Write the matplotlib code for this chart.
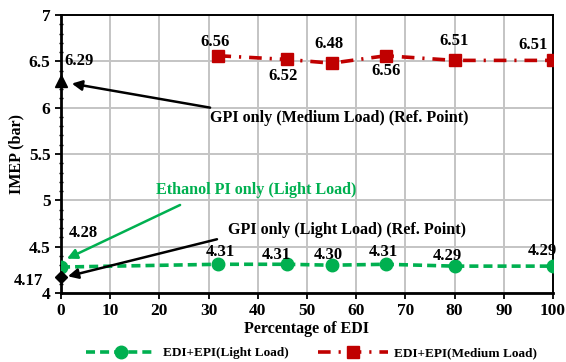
import matplotlib
matplotlib.use("Agg")
import matplotlib.pyplot as plt
from matplotlib.ticker import MultipleLocator

# ---- data ----
edi_light = [0, 32, 46, 55, 66, 80, 100]
imep_light = [4.28, 4.31, 4.31, 4.30, 4.31, 4.29, 4.29]
edi_medium = [32, 46, 55, 66, 80, 100]
imep_medium = [6.56, 6.52, 6.48, 6.56, 6.51, 6.51]
gpi_medium_ref = 6.29
gpi_light_ref = 4.17

light_label_off = [(22, 34), (2, 12), (-11, 9), (-3, 10), (-2, 12), (-7, 10), (-11, 15)]
medium_label_off = [(-3, 14), (-4, -17), (-3, 19), (0, -15), (-1, 19), (-20, 15)]

GREEN = "#00b050"
RED = "#c00000"
plt.rcParams['font.family'] = ['Liberation Serif', 'DejaVu Serif']
plt.rcParams['font.weight'] = 'bold'

fig = plt.figure(figsize=(5.66, 3.62), dpi=100)
ax = fig.add_axes([0.1078, 0.1906, 0.8692, 0.768])

ax.plot(edi_light, imep_light, color=GREEN, lw=2.6, ls=(0, (2.5, 1.4)), marker='o', ms=9,
        label='EDI+EPI(Light Load)', zorder=3)
ax.plot(edi_medium, imep_medium, color=RED, lw=2.6, ls=(0, (3.5, 2.2, 0.6, 2.2)), marker='s', ms=9,
        label='EDI+EPI(Medium Load)', zorder=3)
ax.plot([0], [gpi_medium_ref], marker='^', color='black', ms=8, clip_on=False, zorder=4)
ax.plot([0], [gpi_light_ref], marker='D', color='black', ms=6.5, clip_on=False, zorder=4)

fs = 12
for x, y, off in zip(edi_light, imep_light, light_label_off):
    ax.annotate(f"{y:.2f}", (x, y), xytext=off, textcoords='offset pixels',
                ha='center', va='center', fontsize=fs, fontweight='bold', annotation_clip=False)
for x, y, off in zip(edi_medium, imep_medium, medium_label_off):
    ax.annotate(f"{y:.2f}", (x, y), xytext=off, textcoords='offset pixels',
                ha='center', va='center', fontsize=fs, fontweight='bold', annotation_clip=False)
ax.annotate(f"{gpi_medium_ref:.2f}", (0, gpi_medium_ref), xytext=(18, 20), textcoords='offset pixels',
            ha='center', va='center', fontsize=fs, fontweight='bold')
ax.annotate(f"{gpi_light_ref:.2f}", (0, gpi_light_ref), xytext=(-33, -4), textcoords='offset pixels',
            ha='center', va='center', fontsize=fs, fontweight='bold', annotation_clip=False)

fa = 11.6
arrow_k = dict(arrowstyle='-|>', color='black', lw=1.8, mutation_scale=15, shrinkA=0, shrinkB=0)
arrow_g = dict(arrowstyle='-|>', color=GREEN, lw=1.8, mutation_scale=15, shrinkA=0, shrinkB=0)
ax.annotate("", xy=(2.2, 6.26), xytext=(30.3, 6.0), arrowprops=arrow_k)
ax.text(30.3, 5.89, "GPI only (Medium Load) (Ref. Point)", fontsize=fa, fontweight='bold',
        ha='left', va='center')
ax.annotate("", xy=(1.2, 4.37), xytext=(24.2, 4.95), arrowprops=arrow_g)
ax.text(19.3, 5.11, "Ethanol PI only (Light Load)", fontsize=fa, fontweight='bold',
        ha='left', va='center', color=GREEN)
ax.annotate("", xy=(1.4, 4.18), xytext=(31.7, 4.58), arrowprops=arrow_k)
ax.text(34, 4.68, "GPI only (Light Load) (Ref. Point)", fontsize=fa, fontweight='bold',
        ha='left', va='center')

ax.set_xlim(0, 100)
ax.set_ylim(4, 7)
ax.xaxis.set_major_locator(MultipleLocator(10))
ax.yaxis.set_major_locator(MultipleLocator(0.5))
ax.yaxis.set_minor_locator(MultipleLocator(0.1))
ax.yaxis.set_major_formatter(plt.FuncFormatter(lambda v, p: f"{v:g}"))
ax.grid(True, which='major', color='#c4c4c4', lw=1.4)
ax.set_axisbelow(True)
ax.tick_params(axis='both', which='major', labelsize=12.5, length=4, width=1.3, direction='out')
ax.tick_params(axis='y', which='minor', length=3, width=1, direction='inout')
for lbl in ax.get_xticklabels() + ax.get_yticklabels():
    lbl.set_fontweight('bold')
for s in ['left', 'bottom']:
    ax.spines[s].set_linewidth(2)
for s in ['top', 'right']:
    ax.spines[s].set_linewidth(1.4)

ax.set_xlabel("Percentage of EDI", fontsize=11.5, fontweight='bold', labelpad=1)
ax.set_ylabel("IMEP (bar)", fontsize=11.5, fontweight='bold', labelpad=3)

fig.legend(loc='lower center', ncol=2, frameon=False, handlelength=5.3, handletextpad=0.5,
           columnspacing=2.2, bbox_to_anchor=(0.551, -0.025), prop={'weight': 'bold', 'size': 9.5})

fig.savefig("out.png", dpi=100)
